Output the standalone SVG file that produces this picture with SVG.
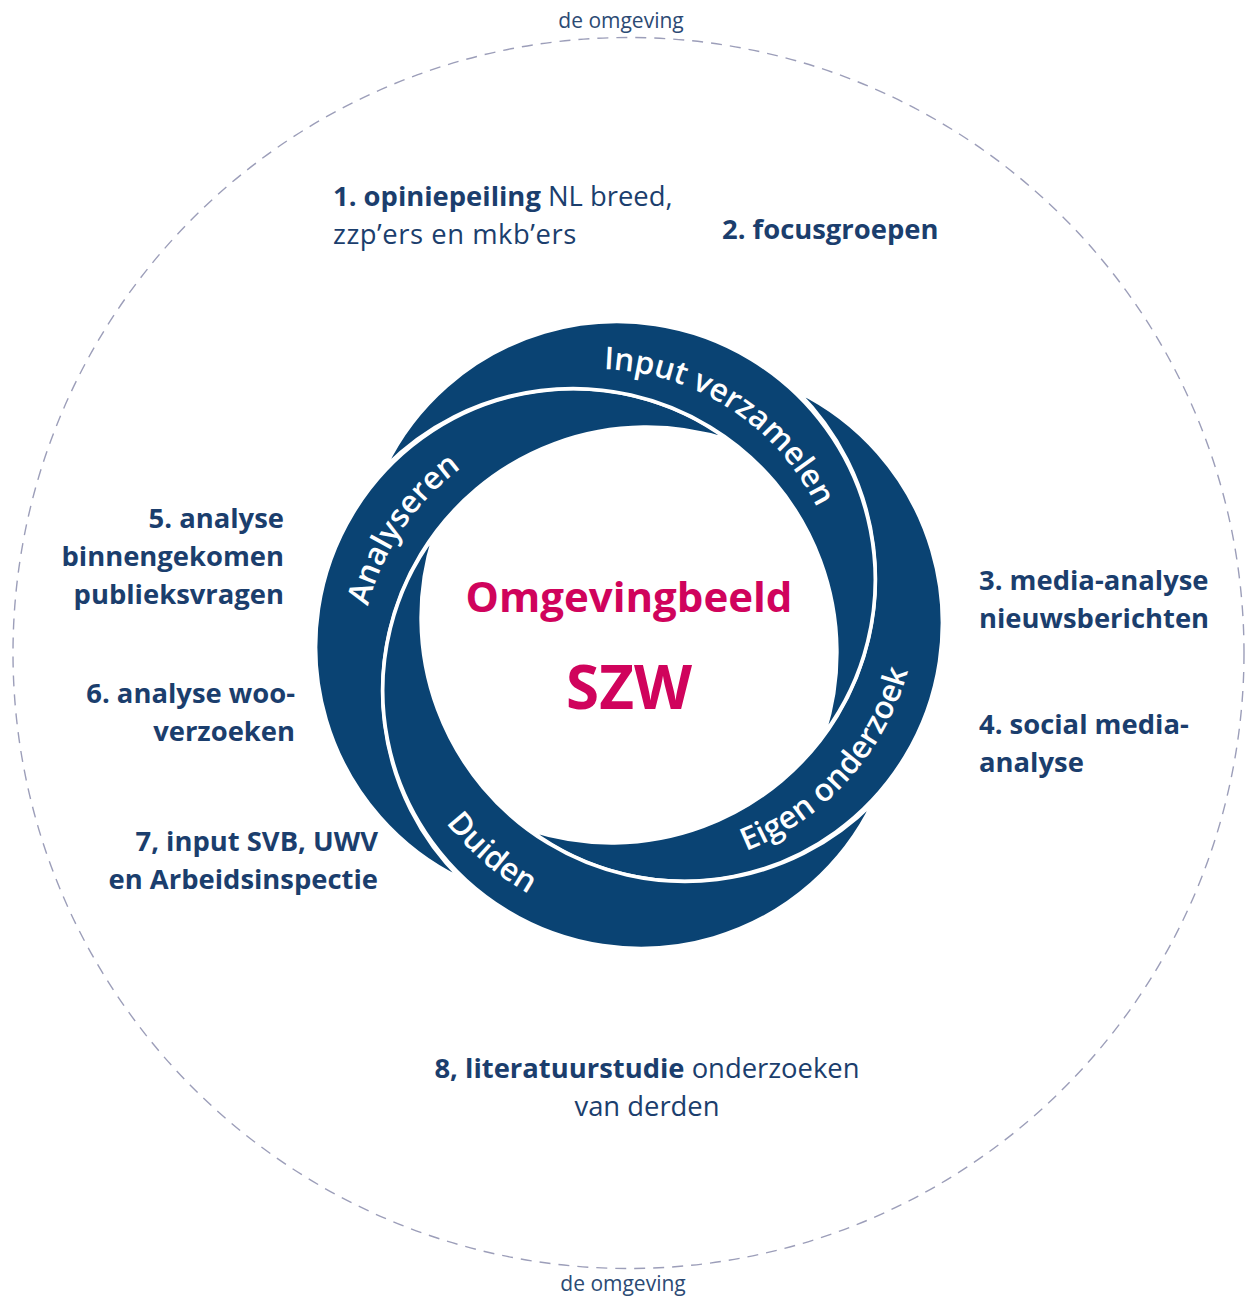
<svg xmlns="http://www.w3.org/2000/svg" xmlns:xlink="http://www.w3.org/1999/xlink" width="1247" height="1296" viewBox="0 0 1247 1296">
  <style>
    .lbl { font-family: "Open Sans", "Noto Sans", "Liberation Sans", sans-serif; font-size: 27.4px; font-weight: 700; fill: #1b3e6d; }
    .reg { font-weight: 400; }
    .env { font-family: "Open Sans", "Noto Sans", "Liberation Sans", sans-serif; font-size: 21px; fill: #2c4a74; }
    .band { fill: #0a4373; stroke: #ffffff; stroke-width: 3.5; stroke-linejoin: round; }
    .ringtxt { font-family: "Open Sans", "Noto Sans", "Liberation Sans", sans-serif; font-size: 31.5px; font-weight: 600; fill: #ffffff; }
    .core { font-family: "Open Sans", "Noto Sans", "Liberation Sans", sans-serif; font-weight: 700; fill: #d0035c; text-anchor: middle; }
  </style>
  <defs>
    <!-- one crescent of the cycle, drawn around the ring centre (629,635) -->
    <path id="band" d="M -243.9 -168 A 258 258 0 1 1 195.1 98.8 A 264 264 0 0 0 -243.9 -168 Z"/>
    <!-- baselines for the ring labels -->
    <path id="p-input" d="M 482.9 395.9 A 247 247 0 0 1 841.7 628.9"/>
    <path id="p-analyse" d="M 385.3 778.6 A 250 250 0 0 1 627.4 419.6"/>
    <path id="p-eigen" d="M 600 866 A 271 271 0 0 0 907 524"/>
    <path id="p-duiden" d="M 392.8 602.9 A 275 275 0 0 0 753.9 913.5"/>
  </defs>

  <rect width="1247" height="1296" fill="#ffffff"/>

  <!-- the surroundings -->
  <g id="omgeving">
    <circle cx="628.5" cy="653" r="615.5" fill="none" stroke="#9c9eb9" stroke-width="1.4" stroke-dasharray="11 8"/>
    <text class="env" x="621" y="28" text-anchor="middle">de omgeving</text>
    <text class="env" x="623" y="1291" text-anchor="middle" font-size="22">de omgeving</text>
  </g>

  <!-- four interlocking phases -->
  <g id="cycle">
    <g id="phase-analyseren">
      <use xlink:href="#band" href="#band" class="band" transform="translate(629 635) rotate(270)"/>
      <text class="ringtxt"><textPath xlink:href="#p-analyse" href="#p-analyse" startOffset="50%" text-anchor="middle">Analyseren</textPath></text>
    </g>
    <g id="phase-eigen-onderzoek">
      <use xlink:href="#band" href="#band" class="band" transform="translate(629 635) rotate(90)"/>
      <text class="ringtxt"><textPath xlink:href="#p-eigen" href="#p-eigen" startOffset="50%" text-anchor="middle">Eigen onderzoek</textPath></text>
    </g>
    <g id="phase-input">
      <use xlink:href="#band" href="#band" class="band" transform="translate(629 635)"/>
      <text class="ringtxt"><textPath xlink:href="#p-input" href="#p-input" startOffset="50%" text-anchor="middle">Input verzamelen</textPath></text>
    </g>
    <g id="phase-duiden">
      <use xlink:href="#band" href="#band" class="band" transform="translate(629 635) rotate(180)"/>
      <text class="ringtxt"><textPath xlink:href="#p-duiden" href="#p-duiden" startOffset="50%" text-anchor="middle">Duiden</textPath></text>
    </g>
  </g>

  <g id="centre">
    <text class="core" x="629" y="612" font-size="42">Omgevingbeeld</text>
    <text class="core" x="629" y="709" font-size="60">SZW</text>
  </g>

  <!-- sources -->
  <g id="bron-1">
    <text class="lbl" x="333" y="206">1. opiniepeiling<tspan class="reg"> NL breed,</tspan></text>
    <text class="lbl reg" x="333" y="244" letter-spacing="0.55">zzp’ers en mkb’ers</text>
  </g>
  <g id="bron-2">
    <text class="lbl" x="722" y="239">2. focusgroepen</text>
  </g>
  <g id="bron-3">
    <text class="lbl" x="979" y="590">3. media-analyse</text>
    <text class="lbl" x="979" y="628">nieuwsberichten</text>
  </g>
  <g id="bron-4">
    <text class="lbl" x="979" y="734">4. social media-</text>
    <text class="lbl" x="979" y="772">analyse</text>
  </g>
  <g id="bron-5" text-anchor="end">
    <text class="lbl" x="284" y="528">5. analyse</text>
    <text class="lbl" x="284" y="566">binnengekomen</text>
    <text class="lbl" x="284" y="604">publieksvragen</text>
  </g>
  <g id="bron-6" text-anchor="end">
    <text class="lbl" x="295" y="703">6. analyse woo-</text>
    <text class="lbl" x="295" y="741">verzoeken</text>
  </g>
  <g id="bron-7" text-anchor="end">
    <text class="lbl" x="378" y="851">7, input SVB, UWV</text>
    <text class="lbl" x="378" y="889">en Arbeidsinspectie</text>
  </g>
  <g id="bron-8" text-anchor="middle">
    <text class="lbl" x="647" y="1078">8, literatuurstudie<tspan class="reg"> onderzoeken</tspan></text>
    <text class="lbl reg" x="647" y="1116">van derden</text>
  </g>
</svg>
